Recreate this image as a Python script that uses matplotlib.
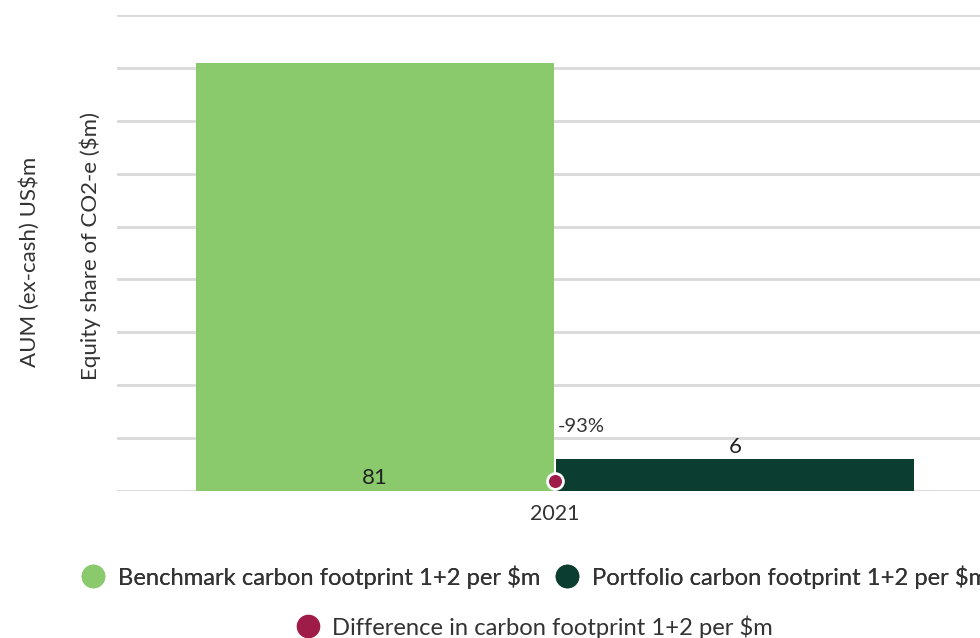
import matplotlib.pyplot as plt
from matplotlib.lines import Line2D

plt.rcParams['font.family'] = ['Lato', 'DejaVu Sans']

# data
years = ["2021"]
benchmark = [81]
portfolio = [6]
difference = [-93]

GREEN = "#8AC96C"
DARK = "#0B3D31"
CRIMSON = "#A01C48"
GRID = "#D9D9D9"
TEXT = "#333333"

fig = plt.figure(figsize=(9.8, 6.38), dpi=100)
ax = fig.add_axes([117 / 980, 1 - 491 / 638, 876 / 980, 476 / 638])

x = list(range(len(years)))
w = 0.408
off = 0.2055
ax.bar([i - off for i in x], benchmark, width=w, color=GREEN, zorder=2)
ax.bar([i + off for i in x], portfolio, width=w, color=DARK, zorder=2)

ax.set_xlim(-0.5, 0.5)
ax.set_ylim(0, 90)
ax.set_yticks(range(0, 91, 10))
ax.yaxis.grid(True, color=GRID, linewidth=2)
ax.set_axisbelow(True)
ax.tick_params(axis='y', length=0, labelleft=False)
ax.tick_params(axis='x', length=0, labelsize=15.5, labelcolor=TEXT, pad=9)
ax.set_xticks(x)
ax.set_xticklabels(years)
for s in ax.spines.values():
    s.set_visible(False)

# value labels
for i, v in zip(x, benchmark):
    ax.text(i - off, 0.6, str(v), ha='center', va='bottom', fontsize=16, color="#222222", zorder=3)
for i, v in zip(x, portfolio):
    ax.text(i + off, v + 0.5, str(v), ha='center', va='bottom', fontsize=16, color="#222222", zorder=3)

# difference on a secondary scale
ax2 = ax.twinx()
ax2.set_ylim(-95, 0)
ax2.axis('off')
ax2.scatter(x, difference, s=130, color=CRIMSON, edgecolor='white', linewidth=2, zorder=5, clip_on=False)
for i, v in zip(x, difference):
    ax2.annotate(f"{v}%", (i, v), xytext=(2, 33), textcoords='offset points',
                 ha='left', va='bottom', fontsize=14.5, color=TEXT)

fig.text(30 / 980, 1 - 262 / 638, "AUM (ex-cash) US$m", rotation=90, ha='center', va='center',
         fontsize=16, color=TEXT)
fig.text(90 / 980, 1 - 246 / 638, "Equity share of CO2-e ($m)", rotation=90, ha='center', va='center',
         fontsize=16, color=TEXT)

def dot(c):
    return Line2D([], [], marker='o', linestyle='', markersize=16, markerfacecolor=c, markeredgecolor=c)

leg1 = fig.legend([dot(GREEN), dot(DARK)],
                  ["Benchmark carbon footprint 1+2 per $m", "Portfolio carbon footprint 1+2 per $m"],
                  loc='center left', bbox_to_anchor=(70 / 980, 1 - 577 / 638), borderaxespad=0,
                  ncol=2, frameon=False, fontsize=17.1, handletextpad=0.5, columnspacing=0.6,
                  handlelength=1.1, labelcolor=TEXT)
fig.add_artist(leg1)
fig.legend([dot(CRIMSON)], ["Difference in carbon footprint 1+2 per $m"],
           loc='center', bbox_to_anchor=(534 / 980, 1 - 627 / 638), frameon=False,
           fontsize=17.1, handletextpad=0.45, handlelength=1.1, labelcolor=TEXT)

fig.savefig("out.png", dpi=100)
